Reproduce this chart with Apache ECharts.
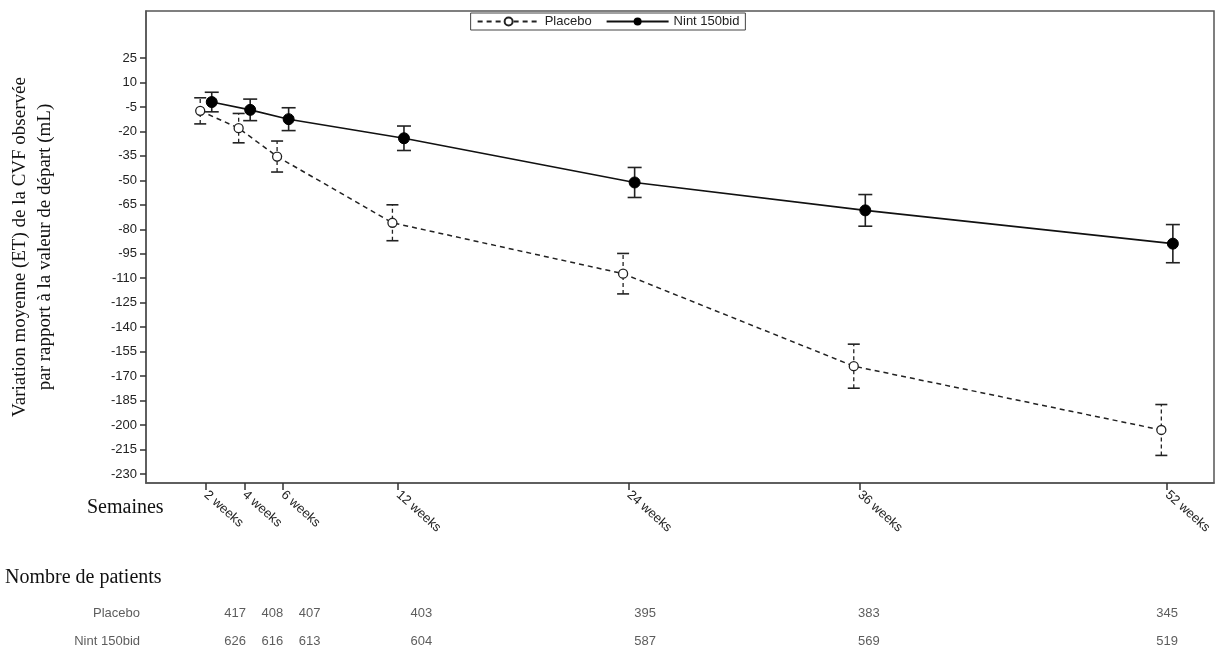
<!DOCTYPE html>
<html><head><meta charset="utf-8">
<script src="https://cdn.jsdelivr.net/npm/echarts@6/dist/echarts.min.js"></script>
<style>html,body{margin:0;padding:0;background:#fff}#c{width:1216px;height:649px}</style>
</head><body><div id="c"></div>
<script>
const weeks = [2, 4, 6, 12, 24, 36, 52];
const weekLabels = ['2 weeks','4 weeks','6 weeks','12 weeks','24 weeks','36 weeks','52 weeks'];
const placebo = [-7.4, -18, -35.4, -76, -107.2, -163.9, -203];
const placeboSE = [8, 9, 9.5, 11, 12.4, 13.5, 15.6];
const nint = [-2, -6.8, -12.5, -24.2, -51.3, -68.4, -88.8];
const nintSE = [6, 6.6, 7, 7.5, 9.2, 9.7, 11.7];
const yTicks = [25,10,-5,-20,-35,-50,-65,-80,-95,-110,-125,-140,-155,-170,-185,-200,-215,-230];
const nPlacebo = [417, 408, 407, 403, 395, 383, 345];
const nNint = [626, 616, 613, 604, 587, 569, 519];
const rowNames = ['Placebo', 'Nint 150bid'];
const rowPos = [0.61, 0.12];

const OFF = 0.3;
const pData = weeks.map((w,i)=>[w-OFF, placebo[i]]);
const nData = weeks.map((w,i)=>[w+OFF, nint[i]]);
const pErr = weeks.map((w,i)=>[w-OFF, placebo[i]-placeboSE[i], placebo[i]+placeboSE[i]]);
const nErr = weeks.map((w,i)=>[w+OFF, nint[i]-nintSE[i], nint[i]+nintSE[i]]);

function errItem(dashed, cap){
  return function(params, api){
    const x = api.value(0);
    const lo = api.coord([x, api.value(1)]);
    const hi = api.coord([x, api.value(2)]);
    const st = {stroke:'#222', lineWidth: dashed?1.3:1.6, lineDash: dashed?[4,3]:null};
    return {type:'group', children:[
      {type:'line', shape:{x1:lo[0],y1:lo[1],x2:hi[0],y2:hi[1]}, style:st},
      {type:'line', shape:{x1:lo[0]-cap,y1:lo[1],x2:lo[0]+cap,y2:lo[1]}, style:{stroke:'#222',lineWidth:1.6}},
      {type:'line', shape:{x1:hi[0]-cap,y1:hi[1],x2:hi[0]+cap,y2:hi[1]}, style:{stroke:'#222',lineWidth:1.6}}
    ]};
  };
}

const chart = echarts.init(document.getElementById('c'));
const sans = 'Liberation Sans, Arial, sans-serif';
const serif = 'Liberation Serif, Times New Roman, serif';
const tableLabel = {show:true, position:'inside', formatter:(p)=>String(p.value[2]), fontSize:13, color:'#333', fontFamily:sans};
chart.setOption({
  animation:false,
  textStyle:{fontFamily:sans},
  legend:{top:13, left:'center', data:['Placebo','Nint 150bid'], itemWidth:62, itemHeight:10, itemGap:14,
    borderColor:'#444', borderWidth:1, padding:[2,6,2,6], textStyle:{fontSize:13,color:'#222',fontFamily:sans}},
  grid:[
    {left:145, right:2, top:11, bottom:166, show:true, borderColor:'#555', borderWidth:1.5, containLabel:false},
    {left:145, right:2, top:590, bottom:0}
  ],
  xAxis:[
    {type:'value', gridIndex:0, min:-1.12, max:54.44,
     axisLine:{show:true, onZero:false, lineStyle:{color:'#555',width:1.5}}, splitLine:{show:false},
     axisTick:{show:true, customValues:weeks, length:7, lineStyle:{color:'#333',width:1.5}},
     axisLabel:{customValues:weeks, rotate:-42, fontSize:13, color:'#222', margin:10,
       formatter:(v)=>weekLabels[weeks.indexOf(v)] || ''}},
    {type:'value', gridIndex:1, min:-2.83, max:54.52, show:false}
  ],
  yAxis:[
    {type:'value', gridIndex:0, min:-235.5, max:53.8,
     axisLine:{show:true, onZero:false, lineStyle:{color:'#555',width:1.5}}, splitLine:{show:false},
     axisTick:{show:true, customValues:yTicks, length:6, lineStyle:{color:'#333',width:1.5}},
     axisLabel:{customValues:yTicks, fontSize:13, color:'#222', margin:9},
     name:'Variation moyenne (ET) de la CVF observée\npar rapport à la valeur de départ (mL)',
     nameLocation:'middle', nameGap:88, nameRotate:90,
     nameTextStyle:{fontFamily:serif, fontSize:19, color:'#111', lineHeight:25}},
    {type:'value', gridIndex:1, min:0, max:1, show:false}
  ],
  graphic:[
    {type:'text', left:5, top:568, style:{text:'Nombre de patients', font:'20px '+serif, fill:'#111'}},
    {type:'text', left:87, top:498, style:{text:'Semaines', font:'20px '+serif, fill:'#111'}}
  ],
  series:[
    {type:'custom', name:'pErr', xAxisIndex:0, yAxisIndex:0, data:pErr, renderItem:errItem(true,6), z:2, silent:true},
    {type:'custom', name:'nErr', xAxisIndex:0, yAxisIndex:0, data:nErr, renderItem:errItem(false,7), z:2, silent:true},
    {type:'line', name:'Placebo', data:pData, symbol:'circle', symbolSize:9,
     lineStyle:{color:'#222', width:1.5, type:[5,4]}, itemStyle:{color:'#fff', borderColor:'#222', borderWidth:1.3}, z:3},
    {type:'line', name:'Nint 150bid', data:nData, symbol:'circle', symbolSize:11,
     lineStyle:{color:'#111', width:1.6}, itemStyle:{color:'#000', borderColor:'#000'}, z:4},
    {type:'scatter', xAxisIndex:1, yAxisIndex:1, symbolSize:0, data:weeks.map((w,i)=>[w, rowPos[0], nPlacebo[i]]), label:tableLabel},
    {type:'scatter', xAxisIndex:1, yAxisIndex:1, symbolSize:0, data:weeks.map((w,i)=>[w, rowPos[1], nNint[i]]), label:tableLabel},
    {type:'scatter', xAxisIndex:1, yAxisIndex:1, symbolSize:0,
     data:rowNames.map((n,i)=>[-2.83, rowPos[i], n]),
     label:{show:true, position:'left', distance:5, formatter:(p)=>p.value[2], fontSize:13, color:'#333', fontFamily:sans}}
  ]
});
</script></body></html>
